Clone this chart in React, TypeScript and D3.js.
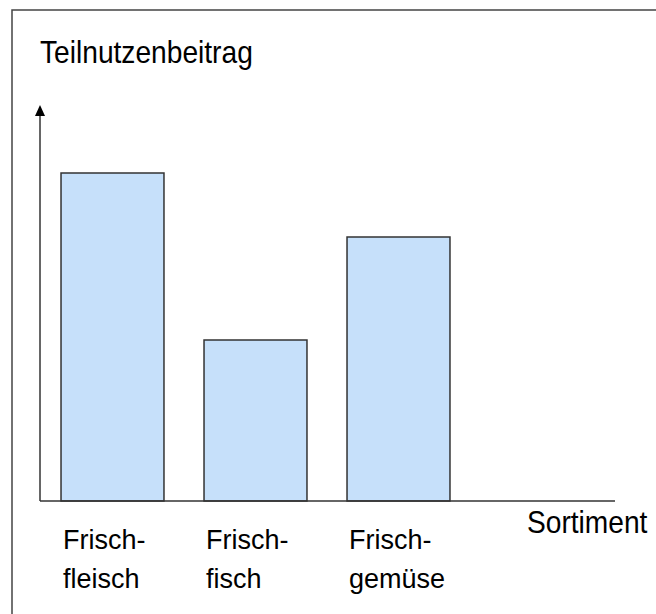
import React from "react";
import * as d3 from "d3";

const categories = ["Frischfleisch", "Frischfisch", "Frischgemüse"];
const labelLine1 = ["Frisch-", "Frisch-", "Frisch-"];
const labelLine2 = ["fleisch", "fisch", "gemüse"];
const values = [328, 161, 264];
const yAxisTitle = "Teilnutzenbeitrag";
const xAxisTitle = "Sortiment";

const W = 656;
const H = 614;
const FONT = "'Liberation Sans', Arial, sans-serif";

export default function App() {
  const baseY = 501;
  const axisX = 40;
  const y = d3.scaleLinear().domain([0, 396]).range([baseY, 105]);
  const x = d3
    .scaleBand<string>()
    .domain(categories)
    .range([41, 470])
    .paddingInner(0.28)
    .paddingOuter(0.14);

  const arrowTip = y(396);

  return (
    <svg
      width={W}
      height={H}
      style={{ position: "absolute", left: 0, top: 0, background: "#fff" }}
    >
      <rect x={12} y={10} width={W + 10} height={H + 10} fill="#fff" stroke="#444" strokeWidth={1.5} />
      <text
        transform="translate(40,62.7) scale(0.88,1)"
        fontFamily={FONT}
        fontSize={32}
        fill="#000"
      >
        {yAxisTitle}
      </text>
      {categories.map((c, i) => (
        <rect
          key={c}
          x={x(c)}
          y={y(values[i])}
          width={x.bandwidth()}
          height={baseY - y(values[i])}
          fill="#c6e0fa"
          stroke="#333"
          strokeWidth={1.5}
        />
      ))}
      <line x1={axisX} y1={baseY} x2={axisX} y2={arrowTip + 10} stroke="#333" strokeWidth={1.5} />
      <path
        d={`M${axisX},${arrowTip} L${axisX - 5},${arrowTip + 11} L${axisX + 5},${arrowTip + 11} Z`}
        fill="#000"
      />
      <line x1={axisX} y1={baseY} x2={615} y2={baseY} stroke="#333" strokeWidth={1.5} />
      <text
        transform="translate(527,533) scale(0.88,1)"
        fontFamily={FONT}
        fontSize={32}
        fill="#000"
      >
        {xAxisTitle}
      </text>
      {categories.map((c, i) => (
        <g key={c + "-label"} fontFamily={FONT} fontSize={27} fill="#000">
          <text x={(x(c) as number) + 2} y={549}>
            {labelLine1[i]}
          </text>
          <text x={(x(c) as number) + 2} y={588}>
            {labelLine2[i]}
          </text>
        </g>
      ))}
    </svg>
  );
}
